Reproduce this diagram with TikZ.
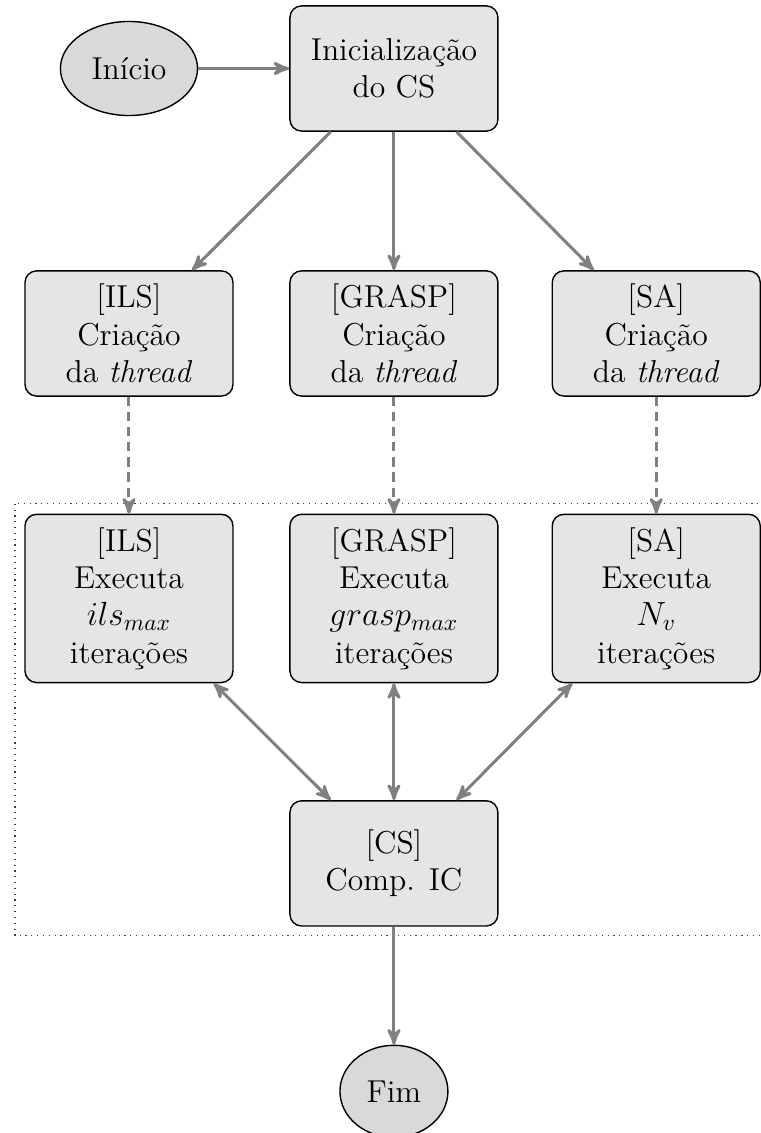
\documentclass[tikz,border=0pt]{standalone}
\usepackage{fontspec}
\usepackage{amsmath}
\usetikzlibrary{arrows, shapes, positioning}

\begin{document}
\begin{tikzpicture}[->,>=stealth',auto,
      every node/.style={font=\fontsize{13.6}{16}\selectfont},
      box/.style={rectangle, draw, fill=gray!20, rounded corners=5pt,
         align=center, minimum width=3.14cm, minimum height=1.89cm,
         inner sep=3pt, line width=0.6pt},
      runbox/.style={box, minimum height=2.54cm},
      term/.style={ellipse, draw, fill=gray!30, line width=0.6pt}]
             \useasboundingbox (-1.947,1.034) rectangle (9.54,-16.07);

             % zona paralela
             \draw [-, dotted, line width=0.5pt, black!75] (-1.72,-6.57) rectangle (12,-13.09);

             \node [term, minimum width=2.07cm, minimum height=1.42cm] at (0,0) (inicio) {Início};
             \node [box] at (4,0) (init) {Inicialização\\do CS};

             \node [box] at (0,-4) (ils) {[ILS]\\Criação\\da \textit{thread}};
             \node [box] at (4,-4) (grasp) {[GRASP]\\Criação\\da \textit{thread}};
             \node [box] at (7.96,-4) (sa) {[SA]\\Criação\\da \textit{thread}};

             \node [runbox] at (0,-8) (ilsrun) {[ILS]\\Executa\\$ils_{max}$\\iterações};
             \node [runbox] at (4,-8) (grasprun) {[GRASP]\\Executa\\$grasp_{max}$\\iterações};
             \node [runbox] at (7.96,-8) (sarun) {[SA]\\Executa\\$N_v$\\iterações};

             \node [box] at (4,-12) (cs) {[CS]\\Comp. IC};
             \node [term, minimum width=1.63cm, minimum height=1.39cm, below=1.78cm of cs] (fim) {Fim};

             \tikzstyle{line} = [draw, gray, line width=1.3pt]
             \draw [line] (inicio) -- (init);
             \draw [line] (init) -- (ils);
             \draw [line] (init) -- (grasp);
             \draw [line] (init) -- (sa);

             \draw [line, dash pattern=on 4pt off 2.5pt] (ils) -- (ilsrun);
             \draw [line, dash pattern=on 4pt off 2.5pt] (grasp) -- (grasprun);
             \draw [line, dash pattern=on 4pt off 2.5pt] (sa) -- (sarun);

             \draw [line, <->] (ilsrun) -- (cs);
             \draw [line, <->] (grasprun) -- (cs);
             \draw [line, <->] (sarun) -- (cs);

             \draw [line] (cs) -- (fim);
\end{tikzpicture}
\end{document}
